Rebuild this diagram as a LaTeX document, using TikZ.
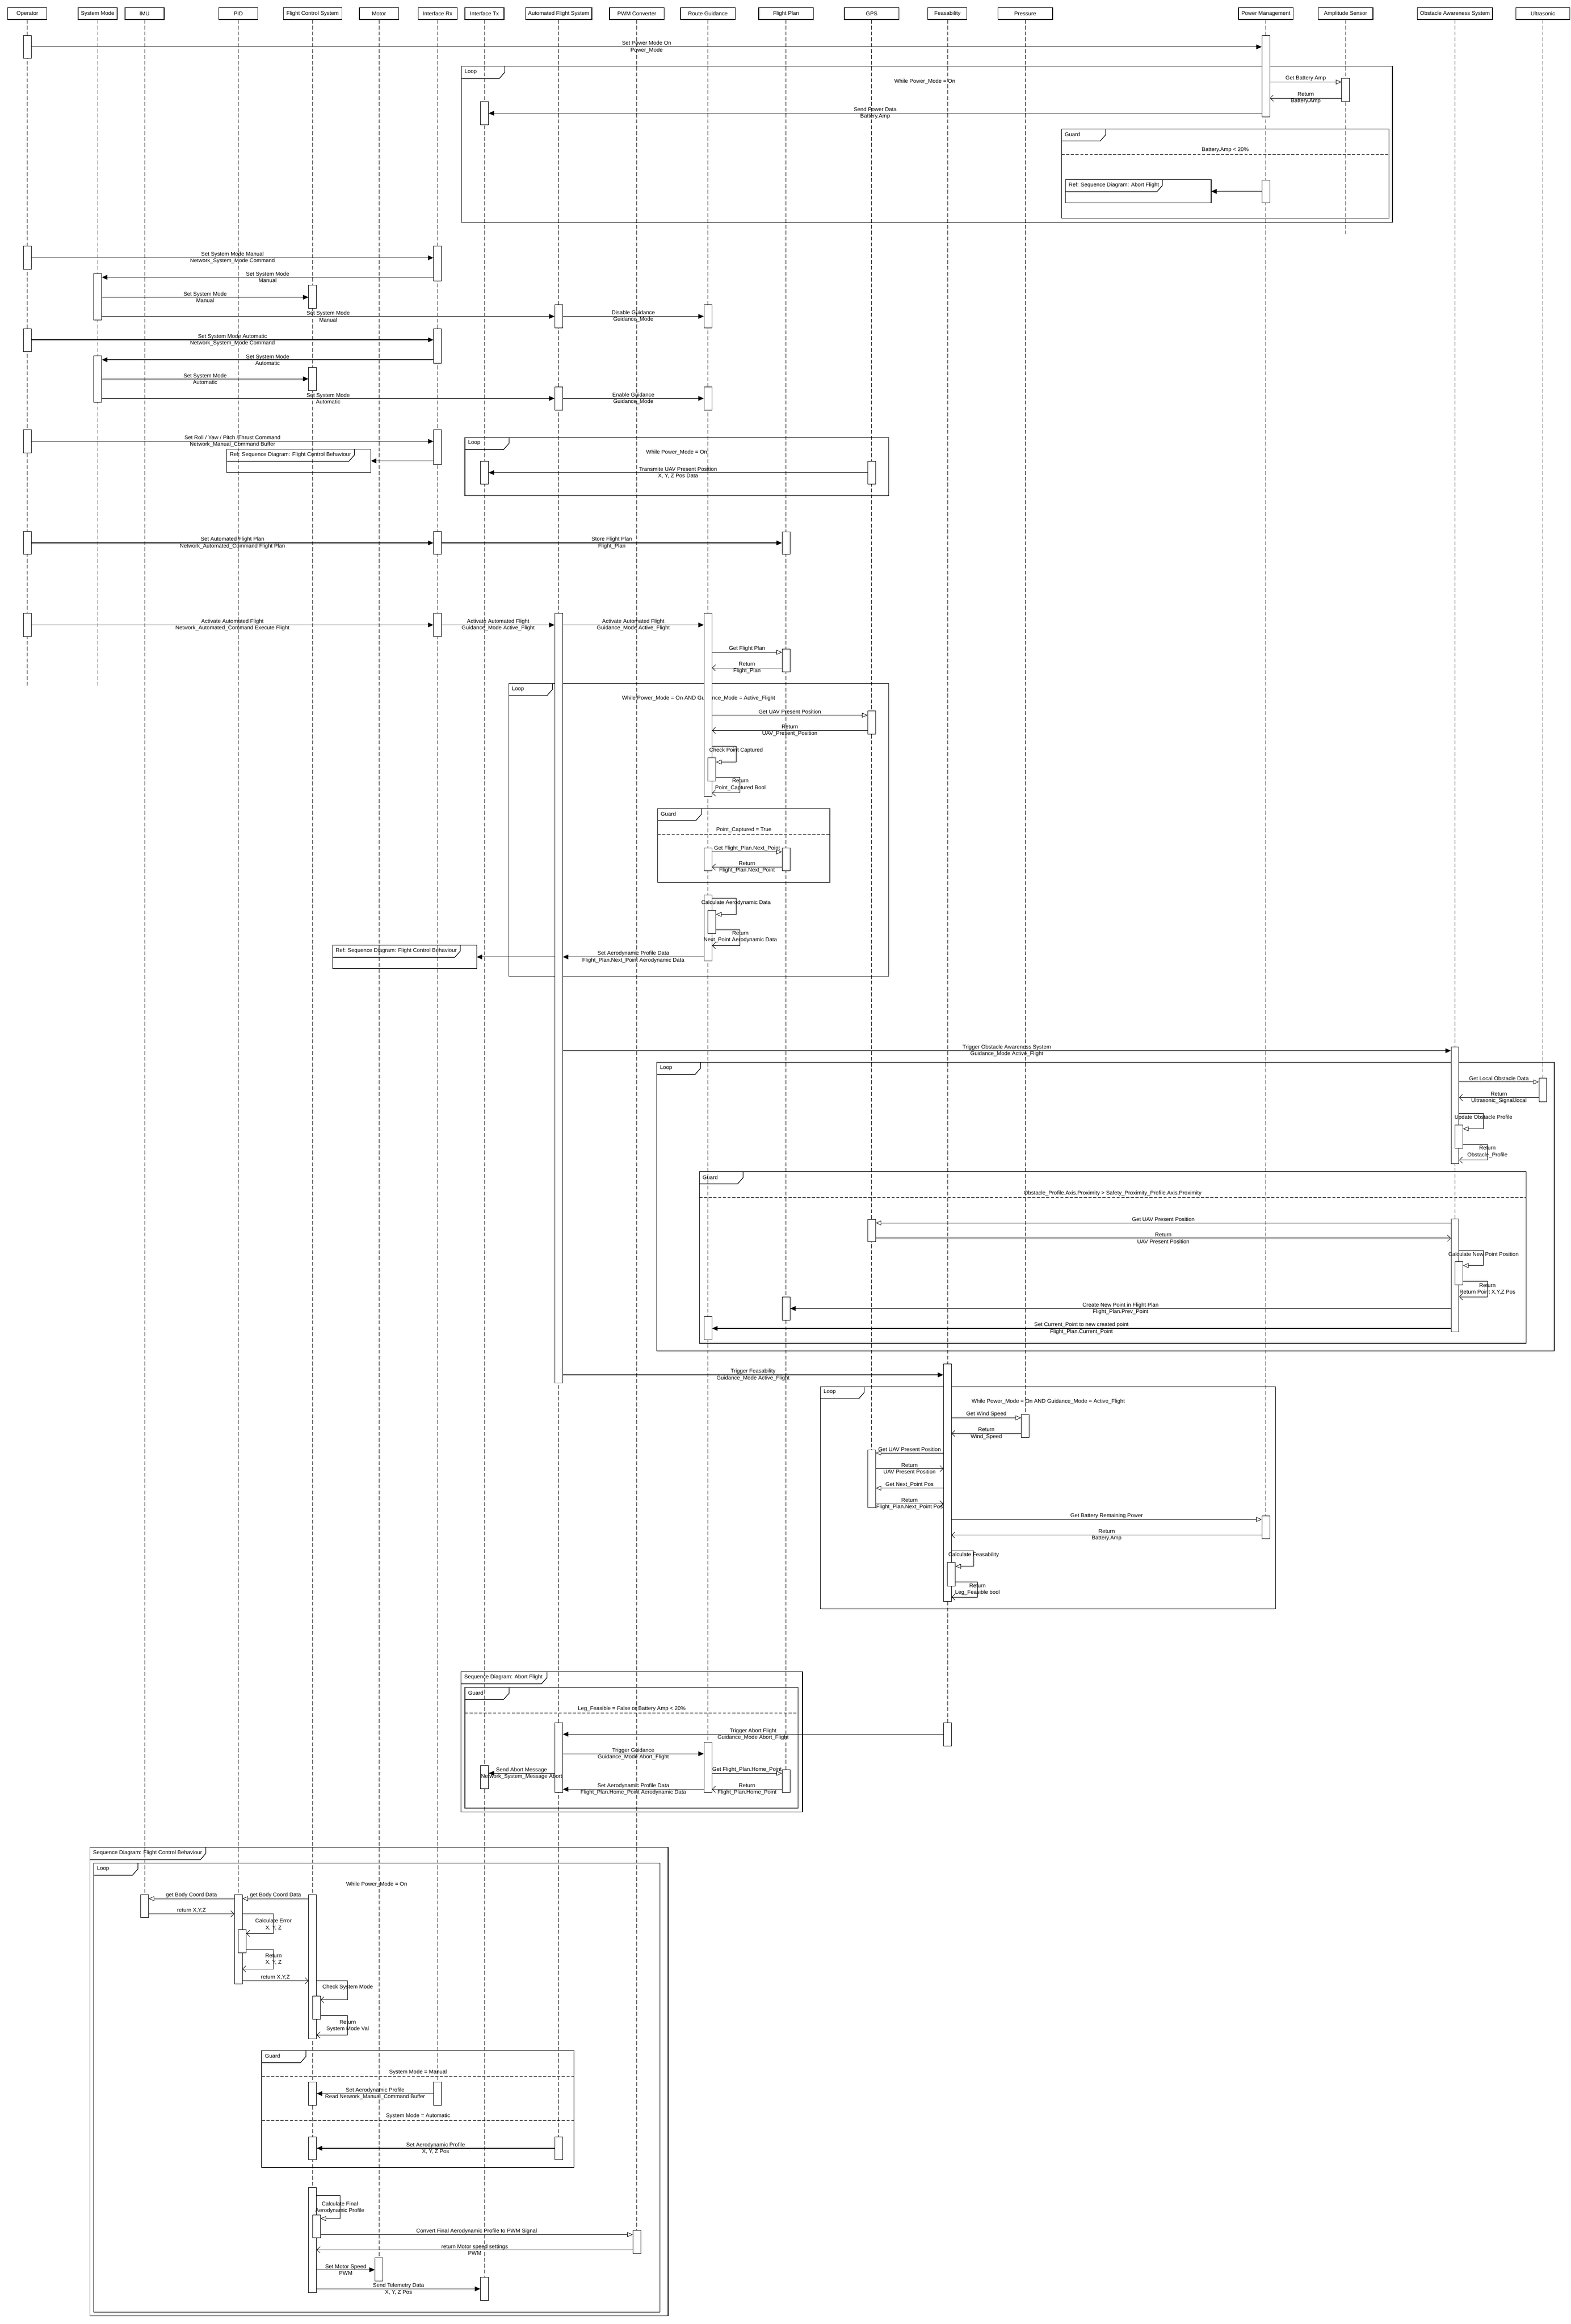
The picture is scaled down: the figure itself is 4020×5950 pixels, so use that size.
\documentclass[tikz,border=0pt]{standalone}
\usepackage{fontspec}
\setmainfont{Liberation Sans}
\usetikzlibrary{arrows.meta}
\newcommand{\act}[4]{\node[actbox, minimum height={#4-#3}] (#1) at (#2,#3) {};}
\newcommand{\msgR}[6]{\draw[#1] (#2.east|-0,#4) -- (#3.west|-0,#4) node[midway,#5]{#6};}
\newcommand{\msgL}[6]{\draw[#1] (#2.west|-0,#4) -- (#3.east|-0,#4) node[midway,#5]{#6};}
\newcommand{\selfc}[6]{\draw[#1] (#2.east|-0,#5) -- (#4,#5) -- (#4,#6) -- (#3.east|-0,#6);}
\newcommand{\frag}[7]{%
  \draw[frame] (#2,#3) rectangle (#4,#5);
  \draw[frame] (#2,#3+31) -- (#6-14,#3+31) -- (#6,#3+15) -- (#6,#3);
  \node[anchor=west,inner sep=0pt] (#1) at (#2+8,#3+14) {#7};}
\newcommand{\refbox}[7]{%
  \node[draw,line width=1.5pt,inner sep=0pt,outer sep=0pt,minimum width={#4-#2},minimum height={#5-#3},anchor=north west] (#1) at (#2,#3) {};
  \draw[frame] (#2,#3+31) -- (#6-14,#3+31) -- (#6,#3+15) -- (#6,#3);
  \node[anchor=west,inner sep=0pt] (#1t) at (#2+8,#3+14) {#7};}
\begin{document}
\begin{tikzpicture}[x=1pt,y=-1pt,font=\fontsize{14}{17}\selectfont,
  life/.style={line width=0.8pt, dash pattern=on 10pt off 5pt},
  hdr/.style={draw, line width=1.5pt, minimum height=30pt, inner sep=0pt},
  actbox/.style={draw, fill=white, line width=1.2pt, minimum width=20pt, inner sep=0pt, anchor=north},
  frame/.style={line width=1.5pt},
  sep/.style={line width=1pt, dash pattern=on 8pt off 4pt},
  call/.style={line width=1.5pt, -{Triangle[length=14pt,width=12pt]}},
  get/.style={line width=1pt, -{Triangle[open,length=14pt,width=12pt]}},
  ret/.style={line width=1pt, -{Straight Barb[length=8pt,width=16pt]}},
  lab/.style={align=center, inner sep=0pt},
  lab1/.style={inner sep=0pt, yshift=9pt},
  txt/.style={align=center, inner sep=0pt}]
\useasboundingbox[fill=white] (0,0) rectangle (4020,5950);
\def\xop{70}\def\xsm{250}\def\ximu{370}\def\xpid{610}\def\xfcs{800}\def\xmot{970}
\def\xrx{1120}\def\xtx{1240}\def\xafs{1430}\def\xpwm{1630}\def\xrg{1812}\def\xfp{2012}
\def\xgps{2231}\def\xfeas{2425}\def\xpr{2624}\def\xpm{3240}\def\xamp{3444}\def\xoas{3724}\def\xult{3949}
% headers
\node[hdr,minimum width=100pt] (Hop) at (\xop,35) {Operator};
\node[hdr,minimum width=100pt] (Hsm) at (\xsm,35) {System Mode};
\node[hdr,minimum width=100pt] (Himu) at (\ximu,35) {IMU};
\node[hdr,minimum width=100pt] (Hpid) at (\xpid,35) {PID};
\node[hdr,minimum width=150pt] (Hfcs) at (\xfcs,35) {Flight Control System};
\node[hdr,minimum width=100pt] (Hmot) at (\xmot,35) {Motor};
\node[hdr,minimum width=100pt] (Hrx) at (\xrx,35) {Interface Rx};
\node[hdr,minimum width=100pt] (Htx) at (\xtx,35) {Interface Tx};
\node[hdr,minimum width=170pt] (Hafs) at (\xafs,35) {Automated Flight System};
\node[hdr,minimum width=140pt] (Hpwm) at (\xpwm,35) {PWM Converter};
\node[hdr,minimum width=140pt] (Hrg) at (\xrg,35) {Route Guidance};
\node[hdr,minimum width=140pt] (Hfp) at (\xfp,35) {Flight Plan};
\node[hdr,minimum width=140pt] (Hgps) at (\xgps,35) {GPS};
\node[hdr,minimum width=100pt] (Hfeas) at (\xfeas,35) {Feasability};
\node[hdr,minimum width=140pt] (Hpr) at (\xpr,35) {Pressure};
\node[hdr,minimum width=140pt] (Hpm) at (\xpm,35) {Power Management};
\node[hdr,minimum width=140pt] (Hamp) at (\xamp,35) {Amplitude Sensor};
\node[hdr,minimum width=192pt] (Hoas) at (\xoas,35) {Obstacle Awareness System};
\node[hdr,minimum width=138pt] (Hult) at (\xult,35) {Ultrasonic};
% lifelines
\coordinate (Eop) at (\xop,1760); \draw[life] (Hop) -- (Eop);
\coordinate (Esm) at (\xsm,1760); \draw[life] (Hsm) -- (Esm);
\coordinate (Eimu) at (\ximu,4909); \draw[life] (Himu) -- (Eimu);
\coordinate (Epid) at (\xpid,5079); \draw[life] (Hpid) -- (Epid);
\coordinate (Efcs) at (\xfcs,5869); \draw[life] (Hfcs) -- (Efcs);
\coordinate (Emot) at (\xmot,5839); \draw[life] (Hmot) -- (Emot);
\coordinate (Erx) at (\xrx,5389); \draw[life] (Hrx) -- (Erx);
\coordinate (Etx) at (\xtx,5889); \draw[life] (Htx) -- (Etx);
\coordinate (Eafs) at (\xafs,5529); \draw[life] (Hafs) -- (Eafs);
\coordinate (Epwm) at (\xpwm,5769); \draw[life] (Hpwm) -- (Epwm);
\coordinate (Erg) at (\xrg,4589); \draw[life] (Hrg) -- (Erg);
\coordinate (Efp) at (\xfp,4589); \draw[life] (Hfp) -- (Efp);
\coordinate (Egps) at (\xgps,3859); \draw[life] (Hgps) -- (Egps);
\coordinate (Efeas) at (\xfeas,4469); \draw[life] (Hfeas) -- (Efeas);
\coordinate (Epr) at (\xpr,3679); \draw[life] (Hpr) -- (Epr);
\coordinate (Epm) at (\xpm,3939); \draw[life] (Hpm) -- (Epm);
\coordinate (Eamp) at (\xamp,600); \draw[life] (Hamp) -- (Eamp);
\coordinate (Eoas) at (\xoas,3409); \draw[life] (Hoas) -- (Eoas);
\coordinate (Eult) at (\xult,2820); \draw[life] (Hult) -- (Eult);
% frames
\frag{L1}{1181}{170}{3564}{569}{1292}{Loop}
\node[txt] (c1) at (2367,209) {While Power\_Mode = On};
\frag{G1}{2717}{330}{3555}{559}{2830}{Guard}
\draw[sep] (2717,396) -- (3555,396);
\node[txt] (c2) at (3136,384) {Battery.Amp < 20\%};
\refbox{R1}{2727}{460}{3100}{519}{2975}{Ref: Sequence Diagram: Abort Flight}
\refbox{R2}{580}{1150}{949}{1210}{907}{Ref: Sequence Diagram: Flight Control Behaviour}
\frag{L2}{1190}{1120}{2275}{1269}{1303}{Loop}
\node[txt] (c3) at (1732,1158) {While Power\_Mode = On};
\frag{L3}{1302}{1750}{2275}{2500}{1414}{Loop}
\node[txt] (c4) at (1788,1788) {While Power\_Mode = On AND Guidance\_Mode = Active\_Flight};
\frag{G2}{1683}{2070}{2124}{2259}{1795}{Guard}
\draw[sep] (1683,2136) -- (2124,2136);
\node[txt] (c5) at (1904,2125) {Point\_Captured = True};
\refbox{R3}{851}{2420}{1220}{2480}{1178}{Ref: Sequence Diagram: Flight Control Behaviour}
\frag{L4}{1681}{2720}{3978}{3459}{1793}{Loop}
\frag{G3}{1790}{3000}{3906}{3439}{1902}{Guard}
\draw[sep] (1790,3066) -- (3906,3066);
\node[txt] (c6) at (2848,3055) {Obstacle\_Profile.Axis.Proximity > Safety\_Proximity\_Profile.Axis.Proximity};
\frag{L5}{2100}{3550}{3265}{4119}{2212}{Loop}
\node[txt] (c7) at (2683,3588) {While Power\_Mode = On AND Guidance\_Mode = Active\_Flight};
\frag{F1}{1180}{4280}{2054}{4639}{1400}{Sequence Diagram: Abort Flight}
\frag{G4}{1190}{4320}{2043}{4629}{1303}{Guard}
\draw[sep] (1190,4386) -- (2043,4386);
\node[txt] (c8) at (1617,4375) {Leg\_Feasible = False or Battery Amp < 20\%};
\frag{F2}{230}{4730}{1710}{5929}{527}{Sequence Diagram: Flight Control Behaviour}
\frag{L6}{240}{4770}{1689}{5920}{353}{Loop}
\node[txt] (c9) at (964,4825) {While Power\_Mode = On};
\frag{G5}{670}{5250}{1469}{5549}{783}{Guard}
\node[txt] (c10) at (1070,5305) {System Mode = Manual};
\draw[sep] (670,5316) -- (1469,5316);
\node[txt] (c11) at (1070,5417) {System Mode = Automatic};
\draw[sep] (670,5429) -- (1469,5429);
% activations
\act{o1}{\xop}{90}{149}
\act{pm1}{\xpm}{90}{299}
\act{amp1}{\xamp}{200}{259}
\act{tx1}{\xtx}{260}{319}
\act{pm2}{\xpm}{460}{519}
\act{o2}{\xop}{630}{689}
\act{rx1}{\xrx}{630}{719}
\act{sm1}{\xsm}{700}{819}
\act{fcs1}{\xfcs}{730}{789}
\act{afs1}{\xafs}{780}{839}
\act{rg1}{\xrg}{780}{839}
\act{o3}{\xop}{841}{900}
\act{rx2}{\xrx}{841}{929}
\act{sm2}{\xsm}{910}{1029}
\act{fcs2}{\xfcs}{940}{999}
\act{afs2}{\xafs}{990}{1049}
\act{rg2}{\xrg}{990}{1049}
\act{o4}{\xop}{1100}{1159}
\act{rx3}{\xrx}{1100}{1189}
\act{tx2}{\xtx}{1180}{1239}
\act{gps1}{\xgps}{1180}{1239}
\act{o5}{\xop}{1360}{1419}
\act{rx4}{\xrx}{1360}{1419}
\act{fp1}{\xfp}{1361}{1419}
\act{o6}{\xop}{1570}{1629}
\act{rx5}{\xrx}{1570}{1629}
\act{afs3}{\xafs}{1570}{3540}
\act{rg3}{\xrg}{1570}{2039}
\act{fp2}{\xfp}{1661}{1719}
\act{gps2}{\xgps}{1820}{1879}
\act{rgn1}{\xrg+10}{1940}{1999}
\act{rg4}{\xrg}{2170}{2229}
\act{fp3}{\xfp}{2170}{2229}
\act{rg5}{\xrg}{2291}{2460}
\act{rgn2}{\xrg+10}{2330}{2389}
\act{oas1}{\xoas}{2680}{2979}
\act{ult1}{\xult}{2760}{2820}
\act{oasn1}{\xoas+10}{2880}{2939}
\act{gps3}{\xgps}{3121}{3179}
\act{oas2}{\xoas}{3120}{3409}
\act{oasn2}{\xoas+10}{3230}{3289}
\act{fp4}{\xfp}{3320}{3379}
\act{rg6}{\xrg}{3370}{3429}
\act{feas1}{\xfeas}{3491}{4100}
\act{pr1}{\xpr}{3621}{3679}
\act{gps4}{\xgps}{3711}{3859}
\act{pm3}{\xpm}{3880}{3939}
\act{feasn1}{\xfeas+10}{4000}{4060}
\act{afs4}{\xafs}{4410}{4589}
\act{feas2}{\xfeas}{4410}{4469}
\act{rg7}{\xrg}{4460}{4589}
\act{fp5}{\xfp}{4530}{4589}
\act{tx3}{\xtx}{4520}{4579}
\act{imu1}{\ximu}{4850}{4909}
\act{pid1}{\xpid}{4850}{5079}
\act{fcs3}{\xfcs}{4850}{5219}
\act{pidn1}{\xpid+10}{4940}{4999}
\act{fcsn1}{\xfcs+10}{5110}{5169}
\act{fcs4}{\xfcs}{5330}{5389}
\act{rx6}{\xrx}{5330}{5389}
\act{fcs5}{\xfcs}{5470}{5529}
\act{afs5}{\xafs}{5470}{5529}
\act{fcs6}{\xfcs}{5600}{5869}
\act{fcsn2}{\xfcs+10}{5670}{5729}
\act{pwm1}{\xpwm}{5710}{5769}
\act{mot1}{\xmot}{5780}{5839}
\act{tx4}{\xtx}{5830}{5889}
% section 1
\msgR{call}{o1}{pm1}{120}{lab}{Set Power Mode On\\Power\_Mode}
\msgR{get}{pm1}{amp1}{210}{lab1}{Get Battery Amp}
\msgL{ret}{amp1}{pm1}{251}{lab}{Return\\Battery.Amp}
\msgL{call}{pm1}{tx1}{290}{lab}{Send Power Data\\Battery.Amp}
\msgL{call}{pm2}{R1}{490}{lab}{}
% section 2
\msgR{call}{o2}{rx1}{660}{lab}{Set System Mode Manual\\Network\_System\_Mode Command}
\msgL{call}{rx1}{sm1}{710}{lab}{Set System Mode\\Manual}
\msgR{call}{sm1}{fcs1}{761}{lab}{Set System Mode\\Manual}
\msgR{call}{sm1}{afs1}{810}{lab}{Set System Mode\\Manual}
\msgR{call}{afs1}{rg1}{810}{lab}{Disable Guidance\\Guidance\_Mode}
% section 3
\msgR{call}{o3}{rx2}{870}{lab}{Set System Mode Automatic\\Network\_System\_Mode Command}
\msgL{call}{rx2}{sm2}{921}{lab}{Set System Mode\\Automatic}
\msgR{call}{sm2}{fcs2}{970}{lab}{Set System Mode\\Automatic}
\msgR{call}{sm2}{afs2}{1020}{lab}{Set System Mode\\Automatic}
\msgR{call}{afs2}{rg2}{1020}{lab}{Enable Guidance\\Guidance\_Mode}
% section 4
\msgR{call}{o4}{rx3}{1130}{lab}{Set Roll / Yaw / Pitch /Thrust Command\\Network\_Manual\_Command Buffer}
\msgL{call}{rx3}{R2}{1180}{lab}{}
\msgL{call}{gps1}{tx2}{1210}{lab}{Transmite UAV Present Position\\X, Y, Z Pos Data}
% section 5
\msgR{call}{o5}{rx4}{1390}{lab}{Set Automated Flight Plan\\Network\_Automated\_Command Flight Plan}
\msgR{call}{rx4}{fp1}{1390}{lab}{Store Flight Plan\\Flight\_Plan}
% section 6
\msgR{call}{o6}{rx5}{1600}{lab}{Activate Automated Flight\\Network\_Automated\_Command Execute Flight}
\msgR{call}{rx5}{afs3}{1600}{lab}{Activate Automated Flight\\Guidance\_Mode Active\_Flight}
\msgR{call}{afs3}{rg3}{1600}{lab}{Activate Automated Flight\\Guidance\_Mode Active\_Flight}
\msgR{get}{rg3}{fp2}{1670}{lab1}{Get Flight Plan}
\msgL{ret}{fp2}{rg3}{1710}{lab}{Return\\Flight\_Plan}
\msgR{get}{rg3}{gps2}{1831}{lab1}{Get UAV Present Position}
\msgL{ret}{gps2}{rg3}{1870}{lab}{Return\\UAV\_Present\_Position}
\selfc{get}{rg3}{rgn1}{1884}{1910}{1951}
\node[txt] (s1) at (1884,1921) {Check Point Captured};
\selfc{ret}{rgn1}{rg3}{1894}{1990}{2030}
\node[txt] (s2) at (1895,2009) {Return\\Point\_Captured Bool};
\msgR{get}{rg4}{fp3}{2181}{lab1}{Get Flight\_Plan.Next\_Point}
\msgL{ret}{fp3}{rg4}{2220}{lab}{Return\\Flight\_Plan.Next\_Point}
\selfc{get}{rg5}{rgn2}{1884}{2300}{2341}
\node[txt] (s3) at (1884,2311) {Calculate Aerodynamic Data};
\selfc{ret}{rgn2}{rg5}{1894}{2381}{2421}
\node[txt] (s4) at (1895,2399) {Return\\Next\_Point Aerodynamic Data};
\msgL{call}{rg5}{afs3}{2450}{lab}{Set Aerodynamic Profile Data\\Flight\_Plan.Next\_Point Aerodynamic Data}
\msgL{call}{afs3}{R3}{2450}{lab}{}
% section 7
\msgR{call}{afs3}{oas1}{2690}{lab}{Trigger Obstacle Awareness System\\Guidance\_Mode Active\_Flight}
\msgR{get}{oas1}{ult1}{2770}{lab1}{Get Local Obstacle Data}
\msgL{ret}{ult1}{oas1}{2810}{lab}{Return\\Ultrasonic\_Signal.local}
\selfc{get}{oas1}{oasn1}{3797}{2850}{2890}
\node[txt] (s5) at (3797,2861) {Update Obstacle Profile};
\selfc{ret}{oasn1}{oas1}{3807}{2930}{2970}
\node[txt] (s6) at (3807,2949) {Return\\Obstacle\_Profile};
\msgL{get}{oas2}{gps3}{3131}{lab1}{Get UAV Present Position}
\msgR{ret}{gps3}{oas2}{3170}{lab}{Return\\UAV Present Position}
\selfc{get}{oas2}{oasn2}{3797}{3201}{3240}
\node[txt] (s7) at (3797,3211) {Calculate New Point Position};
\selfc{ret}{oasn2}{oas2}{3807}{3280}{3320}
\node[txt] (s8) at (3807,3300) {Return\\Return Point X,Y,Z Pos};
\msgL{call}{oas2}{fp4}{3350}{lab}{Create New Point in Flight Plan\\Flight\_Plan.Prev\_Point}
\msgL{call}{oas2}{rg6}{3401}{lab}{Set Current\_Point to new created point\\Flight\_Plan.Current\_Point}
% section 8
\msgR{call}{afs3}{feas1}{3520}{lab}{Trigger Feasability\\Guidance\_Mode Active\_Flight}
\msgR{get}{feas1}{pr1}{3630}{lab1}{Get Wind Speed}
\msgL{ret}{pr1}{feas1}{3670}{lab}{Return\\Wind\_Speed}
\msgL{get}{feas1}{gps4}{3720}{lab1}{Get UAV Present Position}
\msgR{ret}{gps4}{feas1}{3760}{lab}{Return\\UAV Present Position}
\msgL{get}{feas1}{gps4}{3810}{lab1}{Get Next\_Point Pos}
\msgR{ret}{gps4}{feas1}{3850}{lab}{Return\\Flight\_Plan.Next\_Point Pos}
\msgR{get}{feas1}{pm3}{3890}{lab1}{Get Battery Remaining Power}
\msgL{ret}{pm3}{feas1}{3930}{lab}{Return\\Battery.Amp}
\selfc{get}{feas1}{feasn1}{2492}{3970}{4010}
\node[txt] (s9) at (2492,3981) {Calculate Feasability};
\selfc{ret}{feasn1}{feas1}{2502}{4050}{4089}
\node[txt] (s10) at (2502,4069) {Return\\Leg\_Feasible bool};
% section 9
\msgL{call}{feas2}{afs4}{4440}{lab}{Trigger Abort Flight\\Guidance\_Mode Abort\_Flight}
\msgR{call}{afs4}{rg7}{4490}{lab}{Trigger Guidance\\Guidance\_Mode Abort\_Flight}
\msgR{get}{rg7}{fp5}{4540}{lab1}{Get Flight\_Plan.Home\_Point}
\msgL{call}{afs4}{tx3}{4540}{lab}{Send Abort Message\\Network\_System\_Message Abort}
\msgL{ret}{fp5}{rg7}{4581}{lab}{Return\\Flight\_Plan.Home\_Point}
\msgL{call}{rg7}{afs4}{4581}{lab}{Set Aerodynamic Profile Data\\Flight\_Plan.Home\_Point Aerodynamic Data}
% section 10
\msgL{get}{fcs3}{pid1}{4861}{lab1}{get Body Coord Data}
\msgL{get}{pid1}{imu1}{4861}{lab1}{get Body Coord Data}
\msgR{ret}{imu1}{pid1}{4900}{lab1}{return X,Y,Z}
\selfc{ret}{pid1}{pidn1}{700}{4900}{4950}
\node[txt] (s11) at (700,4927) {Calculate Error\\X, Y, Z};
\selfc{ret}{pidn1}{pid1}{700}{4991}{5041}
\node[txt] (s12) at (700,5016) {Return\\X, Y, Z};
\msgR{ret}{pid1}{fcs3}{5071}{lab1}{return X,Y,Z}
\selfc{ret}{fcs3}{fcsn1}{890}{5071}{5120}
\node[txt] (s13) at (890,5088) {Check System Mode};
\selfc{ret}{fcsn1}{fcs3}{890}{5160}{5210}
\node[txt] (s14) at (890,5187) {Return\\System Mode Val};
\msgL{call}{rx6}{fcs4}{5360}{lab}{Set Aerodynamic Profile\\Read Network\_Manual\_Command Buffer}
\msgL{call}{afs5}{fcs5}{5500}{lab}{Set Aerodynamic Profile\\X, Y, Z Pos}
\selfc{get}{fcs6}{fcsn2}{870}{5621}{5680}
\node[txt] (s15) at (870,5652) {Calculate Final\\Aerodynamic Profile};
\msgR{get}{fcsn2}{pwm1}{5721}{lab1}{Convert Final Aerodynamic Profile to PWM Signal}
\msgL{ret}{pwm1}{fcs6}{5760}{lab}{return Motor speed settings\\PWM}
\msgR{call}{fcs6}{mot1}{5811}{lab}{Set Motor Speed\\PWM}
\msgR{call}{fcs6}{tx4}{5860}{lab}{Send Telemetry Data\\X, Y, Z Pos}
\end{tikzpicture}
\end{document}
